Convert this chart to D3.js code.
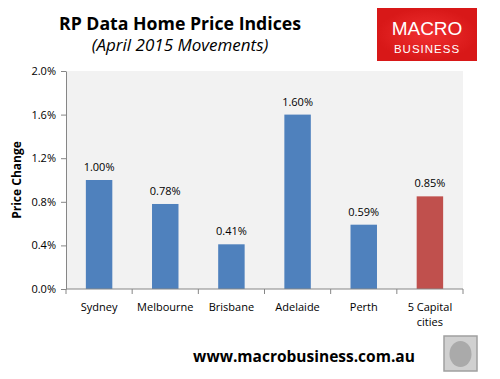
<!DOCTYPE html>
<html><head><meta charset="utf-8">
<script src="https://cdn.jsdelivr.net/npm/d3@7"></script>
<style>body{margin:0;background:#fff}svg{display:block}</style>
</head><body>
<script>
const categories = ["Sydney","Melbourne","Brisbane","Adelaide","Perth","5 Capital cities"];
const values = [1.00, 0.78, 0.41, 1.60, 0.59, 0.85];
const valueLabels = ["1.00%","0.78%","0.41%","1.60%","0.59%","0.85%"];
const barColors = ["#4f81bd","#4f81bd","#4f81bd","#4f81bd","#4f81bd","#c0504d"];
const yTicks = [0, 0.4, 0.8, 1.2, 1.6, 2.0];

const W = 500, H = 379;
const svg = d3.select("body").append("svg").attr("width", W).attr("height", H);
const font = "'Open Sans', 'DejaVu Sans', sans-serif";

const x = d3.scaleBand().domain(categories).range([66, 463]).paddingInner(0.6).paddingOuter(0.3);
const y = d3.scaleLinear().domain([0, 2]).range([289, 71]);

svg.append("rect").attr("x", 66).attr("y", 71).attr("width", 397).attr("height", 218).attr("fill", "#f2f2f2");

svg.selectAll(".bar").data(values).enter().append("rect")
  .attr("x", (d,i) => x(categories[i]))
  .attr("y", d => y(d))
  .attr("width", x.bandwidth())
  .attr("height", d => y(0) - y(d))
  .attr("fill", (d,i) => barColors[i]);

svg.selectAll(".vl").data(values).enter().append("text")
  .attr("x", (d,i) => x(categories[i]) + x.bandwidth()/2)
  .attr("y", d => y(d) - 9)
  .attr("text-anchor", "middle")
  .attr("font-family", font).attr("font-size", 11).attr("fill", "#000")
  .text((d,i) => valueLabels[i]);

// Y axis
const yAxis = d3.axisLeft(y).tickValues(yTicks).tickFormat(d => d.toFixed(1) + "%").tickSize(5).tickSizeOuter(0);
const gy = svg.append("g").attr("transform", "translate(66,0)").call(yAxis);
gy.select(".domain").attr("stroke", "#868686");
gy.selectAll(".tick line").attr("stroke", "#868686");
gy.selectAll("text").attr("font-family", font).attr("font-size", 11).attr("fill", "#000").attr("dx", -2);

// X axis
const gx = svg.append("g").attr("transform", "translate(0,289)");
gx.append("line").attr("x1", 66).attr("x2", 463).attr("stroke", "#868686");
const step = 397 / categories.length;
d3.range(categories.length + 1).forEach(i => {
  gx.append("line").attr("x1", 66 + i*step).attr("x2", 66 + i*step).attr("y1", 0).attr("y2", 5).attr("stroke", "#868686");
});
categories.forEach((c, i) => {
  const cx = x(c) + x.bandwidth()/2;
  const lines = c === "5 Capital cities" ? ["5 Capital", "cities"] : [c];
  lines.forEach((t, j) => {
    gx.append("text").attr("x", cx).attr("y", 22 + j*15).attr("text-anchor", "middle")
      .attr("font-family", font).attr("font-size", 11).attr("fill", "#000").text(t);
  });
});

// Y title
svg.append("text").attr("transform", "translate(21,180) rotate(-90)").attr("text-anchor", "middle")
  .attr("font-family", font).attr("font-size", 12).attr("font-weight", "bold").text("Price Change");

// Titles
svg.append("text").attr("x", 180).attr("y", 30).attr("text-anchor", "middle")
  .attr("font-family", font).attr("font-size", 17.7).attr("font-weight", "bold").text("RP Data Home Price Indices");
svg.append("text").attr("x", 180).attr("y", 51).attr("text-anchor", "middle")
  .attr("font-family", font).attr("font-size", 17).attr("font-style", "italic").text("(April 2015 Movements)");

// Logo
const grad = svg.append("defs").append("radialGradient").attr("id", "rg");
grad.append("stop").attr("offset", "0%").attr("stop-color", "#f03030");
grad.append("stop").attr("offset", "100%").attr("stop-color", "#d81818");
svg.append("rect").attr("x", 377).attr("y", 8).attr("width", 100).attr("height", 53).attr("fill", "url(#rg)");
svg.append("text").attr("x", 427).attr("y", 35).attr("text-anchor", "middle")
  .attr("font-family", "'Liberation Sans', Arial, sans-serif").attr("font-size", 19).attr("fill", "#fff").text("MACRO");
svg.append("text").attr("x", 427).attr("y", 53).attr("text-anchor", "middle")
  .attr("font-family", "'Liberation Sans', Arial, sans-serif").attr("font-size", 11.5).attr("letter-spacing", 1).attr("fill", "#fff").text("BUSINESS");

// Footer
svg.append("text").attr("x", 304).attr("y", 362).attr("text-anchor", "middle")
  .attr("font-family", font).attr("font-size", 15.5).attr("font-weight", "bold").text("www.macrobusiness.com.au");

// Fox image placeholder
svg.append("rect").attr("x", 444).attr("y", 336).attr("width", 33).attr("height", 35)
  .attr("fill", "#d0d0d0").attr("stroke", "#a0a0a0").attr("stroke-width", 1.5);
svg.append("ellipse").attr("cx", 460.5).attr("cy", 354).attr("rx", 11).attr("ry", 13).attr("fill", "#8a8a8a").attr("opacity", 0.55);
</script>
</body></html>
